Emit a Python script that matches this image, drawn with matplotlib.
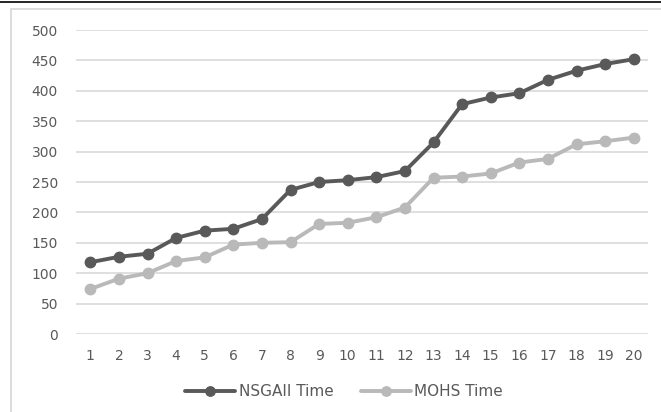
import matplotlib.pyplot as plt
from matplotlib.patches import Rectangle
from matplotlib.lines import Line2D

runs = list(range(1, 21))
nsgaii_time = [118, 127, 132, 158, 170, 173, 189, 237, 250, 253,
               258, 268, 315, 378, 389, 396, 418, 433, 444, 452]
mohs_time = [74, 91, 100, 120, 126, 147, 150, 151, 181, 183,
             192, 208, 257, 259, 264, 282, 288, 312, 317, 323]
yticks = [0, 50, 100, 150, 200, 250, 300, 350, 400, 450, 500]

plt.rcParams['font.family'] = ['DejaVu Sans']
txt = '#595959'
W, H = 661, 412

fig = plt.figure(figsize=(W / 100, H / 100), dpi=100, facecolor='white')

# chart frame and the rule across the top
fig.patches.append(Rectangle((11 / W, -0.1), 1.2, 1.1 - 9 / H, transform=fig.transFigure,
                             fill=False, edgecolor='#d9d9d9', linewidth=1.3))
fig.lines.append(Line2D([0, 1], [1 - 1.5 / H, 1 - 1.5 / H], transform=fig.transFigure,
                        color='black', linewidth=1.2))

ax = fig.add_axes([76 / W, (H - 334) / H, 572 / W, 304 / H])
ax.plot(runs, nsgaii_time, color='#595959', linewidth=2.8, marker='o',
        markersize=7.5, label='NSGAII Time', solid_capstyle='round')
ax.plot(runs, mohs_time, color='#b9b9b9', linewidth=2.8, marker='o',
        markersize=7.5, label='MOHS Time', solid_capstyle='round')

ax.set_xlim(0.5, 20.5)
ax.set_ylim(0, 500)
ax.set_xticks(runs)
ax.set_yticks(yticks)
ax.grid(axis='y', color='#d9d9d9', linewidth=1.2)
ax.set_axisbelow(True)
for s in ax.spines.values():
    s.set_visible(False)
ax.tick_params(length=0, labelsize=10, colors=txt)
ax.tick_params(axis='y', pad=13)
ax.tick_params(axis='x', pad=11)

fig.legend(loc='center', bbox_to_anchor=(344 / W, 1 - 392 / H), ncol=2, frameon=False,
           fontsize=11, labelcolor=txt, handlelength=3.3, handletextpad=0.2,
           columnspacing=1.8, markerscale=0.9)

fig.savefig('out.png', dpi=100)
